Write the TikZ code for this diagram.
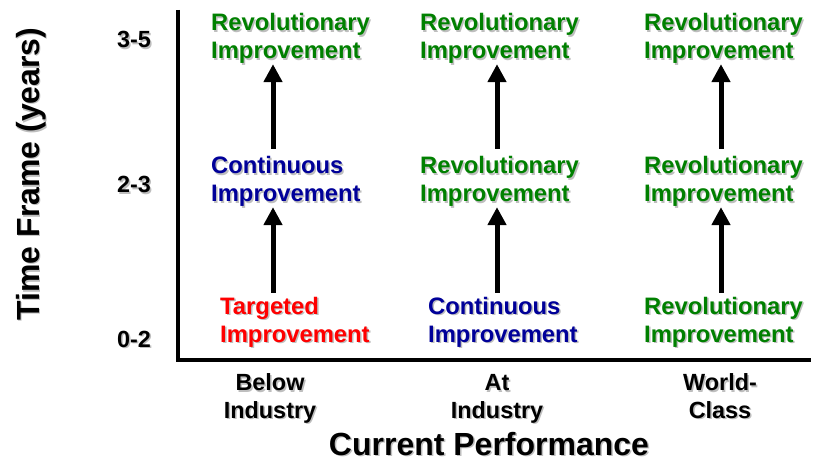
\documentclass[tikz,border=0pt]{standalone}
\usepackage{fontspec}
\setmainfont{Liberation Sans}
\usetikzlibrary{shapes,arrows,arrows.meta,positioning}

\definecolor{revgreen}{RGB}{0,128,0}
\definecolor{contblue}{RGB}{0,0,153}
\definecolor{targred}{RGB}{255,0,0}
\definecolor{shade}{RGB}{190,190,190}

\tikzset{
  cell/.style={align=left,inner sep=0pt,anchor=base west,font=\fontsize{23.8}{28}\selectfont\bfseries},
  tick/.style={align=center,inner sep=0pt,anchor=base,font=\fontsize{23.4}{27.5}\selectfont\bfseries},
  bigtitle/.style={inner sep=0pt,anchor=base,font=\fontsize{32}{36}\selectfont\bfseries},
  rev/.style={cell,text=revgreen},
  cont/.style={cell,text=contblue},
  targ/.style={cell,text=targred},
  uparrow/.style={line width=5pt,-{Triangle[length=18pt,width=18pt]}},
  axisline/.style={line width=4.5pt,line join=miter}
}

%% text with a grey drop shadow
\newcommand{\dropnode}[4]{%
  \node[xshift=1.5pt,yshift=-1.5pt,#1,text=shade] at #3 {#4};
  \node[#1] (#2) at #3 {#4};}

\begin{document}
\begin{tikzpicture}[x=1pt,y=-1pt]
                    \useasboundingbox (0,0) rectangle (813,462);

                    %%axis
                    \coordinate (top) at (178,10);
                    \coordinate (origin) at (178,360);
                    \coordinate (right) at (811,360);
                    \draw[axisline] (top) -- (origin) -- (right);

                    %%columns of the arrows
                    \coordinate (c1) at (273,0);
                    \coordinate (c2) at (497,0);
                    \coordinate (c3) at (721,0);

                    %%below industry
                    \dropnode{targ}{low1}{(220,342)}{Targeted\\Improvement}
                    \dropnode{cont}{mid1}{(211,202)}{Continuous\\Improvement}
                    \dropnode{rev}{high1}{(211,59)}{Revolutionary\\Improvement}

                    %%at industry
                    \dropnode{cont}{low2}{(428,342)}{Continuous\\Improvement}
                    \dropnode{rev}{mid2}{(420,202)}{Revolutionary\\Improvement}
                    \dropnode{rev}{high2}{(420,59)}{Revolutionary\\Improvement}

                    %%world-class
                    \dropnode{rev}{low3}{(644,342)}{Revolutionary\\Improvement}
                    \dropnode{rev}{mid3}{(644,202)}{Revolutionary\\Improvement}
                    \dropnode{rev}{high3}{(644,59)}{Revolutionary\\Improvement}

                    %%arrows
                    \draw[uparrow,shorten <=4pt] (low1.north -| c1) -- (mid1.south -| c1);
                    \draw[uparrow,shorten <=8pt] (mid1.north -| c1) -- (high1.south -| c1);
                    \draw[uparrow,shorten <=4pt] (low2.north -| c2) -- (mid2.south -| c2);
                    \draw[uparrow,shorten <=8pt] (mid2.north -| c2) -- (high2.south -| c2);
                    \draw[uparrow,shorten <=4pt] (low3.north -| c3) -- (mid3.south -| c3);
                    \draw[uparrow,shorten <=8pt] (mid3.north -| c3) -- (high3.south -| c3);

                    %%time frame labels
                    \dropnode{tick}{y1}{(134,347)}{0-2}
                    \dropnode{tick}{y2}{(134,193)}{2-3}
                    \dropnode{tick}{y3}{(134,48)}{3-5}

                    %%performance labels
                    \dropnode{tick}{x1}{(270,418)}{Below\\Industry}
                    \dropnode{tick}{x2}{(497,418)}{At\\Industry}
                    \dropnode{tick}{x3}{(720,418)}{World-\\Class}

                    %%axis titles
                    \dropnode{bigtitle}{xtitle}{(489,455)}{Current Performance}
                    \dropnode{bigtitle,rotate=90}{ytitle}{(39,174)}{Time Frame (years)}

                \end{tikzpicture}
\end{document}
